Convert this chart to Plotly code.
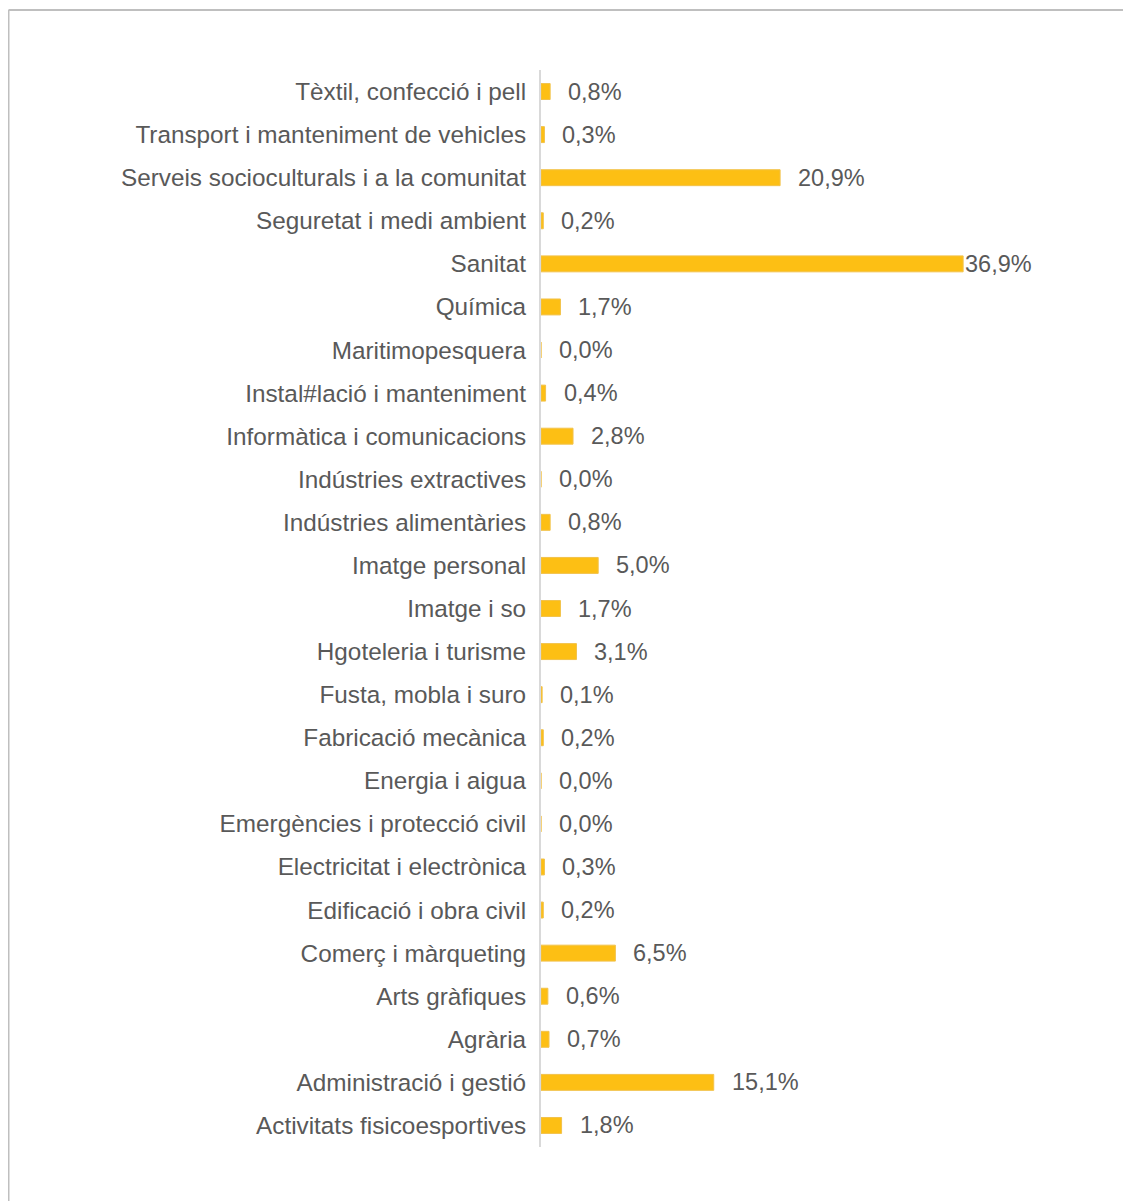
import plotly.graph_objects as go

categories = [
    "Tèxtil, confecció i pell",
    "Transport i manteniment de vehicles",
    "Serveis socioculturals i a la comunitat",
    "Seguretat i medi ambient",
    "Sanitat",
    "Química",
    "Maritimopesquera",
    "Instal#lació i manteniment",
    "Informàtica i comunicacions",
    "Indústries extractives",
    "Indústries alimentàries",
    "Imatge personal",
    "Imatge i so",
    "Hgoteleria i turisme",
    "Fusta, mobla i suro",
    "Fabricació mecànica",
    "Energia i aigua",
    "Emergències i protecció civil",
    "Electricitat i electrònica",
    "Edificació i obra civil",
    "Comerç i màrqueting",
    "Arts gràfiques",
    "Agrària",
    "Administració i gestió",
    "Activitats fisicoesportives",
]
values = [0.8, 0.3, 20.9, 0.2, 36.9, 1.7, 0.0, 0.4, 2.8, 0.0, 0.8, 5.0, 1.7, 3.1,
          0.1, 0.2, 0.0, 0.0, 0.3, 0.2, 6.5, 0.6, 0.7, 15.1, 1.8]
labels = [f"{v:.1f}%".replace(".", ",") for v in values]

# page has 8px body margin, so figure coordinates are offset by 8px
W, H = 1131, 1193
L, R, T, B = 533, 26, 62, 54
FONT = "Liberation Sans, Arial, sans-serif"
TXT = "#595959"

fig = go.Figure()
fig.add_trace(go.Bar(
    x=values, y=categories, orientation="h",
    marker=dict(color="#FDBF14", line=dict(color="#F2C24A", width=1)),
    hoverinfo="x+y",
))

vmax = max(values)
for c, v, t in zip(categories, values, labels):
    fig.add_annotation(x=v, y=c, text=t, showarrow=False, xanchor="left",
                       yanchor="middle", xshift=(0 if v == vmax else 16),
                       font=dict(family=FONT, size=23.5, color=TXT))

pw = W - L - R
ph = H - T - B
x0 = (0.5 - L) / pw
x1 = (W - L) / pw
ytop = (H - B - 2) / ph
ybot = (-B - 5) / ph
border = dict(color="#BFBFBF", width=2)
fig.add_shape(type="line", xref="paper", yref="paper", x0=x0, x1=x1, y0=ytop, y1=ytop, line=border)
fig.add_shape(type="line", xref="paper", yref="paper", x0=x0, x1=x0, y0=ytop, y1=ybot, line=border)

fig.update_layout(
    width=W, height=H,
    margin=dict(l=L, r=R, t=T, b=B, autoexpand=False),
    paper_bgcolor="white", plot_bgcolor="white",
    bargap=0.63,
    showlegend=False,
    xaxis=dict(range=[0, 50], visible=False, showgrid=False, zeroline=False),
    yaxis=dict(autorange="reversed", showline=True, linecolor="#D9D9D9", linewidth=2,
               ticks="", showgrid=False, ticklabelstandoff=8,
               tickfont=dict(family=FONT, size=24.3, color=TXT)),
)

fig.write_html("out.html")
